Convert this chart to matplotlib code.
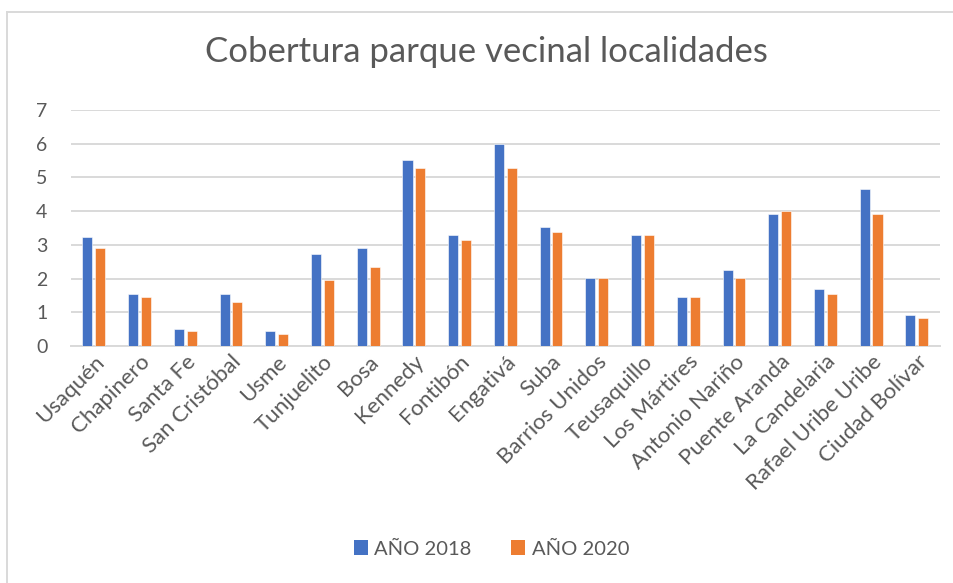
import matplotlib
matplotlib.use("Agg")
from matplotlib import pyplot as plt
from matplotlib.patches import Patch
from matplotlib.lines import Line2D
import numpy as np

localidades = [
    "Usaquén", "Chapinero", "Santa Fe", "San Cristóbal", "Usme", "Tunjuelito",
    "Bosa", "Kennedy", "Fontibón", "Engativá", "Suba", "Barrios Unidos",
    "Teusaquillo", "Los Mártires", "Antonio Nariño", "Puente Aranda",
    "La Candelaria", "Rafael Uribe Uribe", "Ciudad Bolívar",
]
anio_2018 = [3.22, 1.55, 0.51, 1.55, 0.45, 2.74, 2.91, 5.52, 3.29, 6.00,
             3.53, 2.02, 3.29, 1.46, 2.26, 3.93, 1.70, 4.65, 0.91]
anio_2020 = [2.91, 1.46, 0.45, 1.32, 0.36, 1.95, 2.34, 5.28, 3.14, 5.28,
             3.37, 2.02, 3.29, 1.46, 2.02, 4.01, 1.54, 3.93, 0.83]
y_ticks = [0, 1, 2, 3, 4, 5, 6, 7]

BLUE = "#4472c4"
ORANGE = "#ed7d31"
GRAY_TEXT = "#595959"
GRID = "#d9d9d9"

plt.rcParams["font.family"] = ["Lato", "DejaVu Sans"]

fig = plt.figure(figsize=(9.54, 5.83), dpi=100)
ax = fig.add_axes([0.0744, 0.4065, 0.9106, 0.4048])

x = np.arange(len(localidades))
w = 0.22
off = 0.14
ax.bar(x - off, anio_2018, width=w, color=BLUE, edgecolor="white", linewidth=0.4, zorder=3)
ax.bar(x + off, anio_2020, width=w, color=ORANGE, edgecolor="white", linewidth=0.4, zorder=3)

ax.set_xlim(-0.5, len(localidades) - 0.5)
ax.set_ylim(0, 7)
ax.set_yticks(y_ticks)
ax.set_yticklabels([str(t) for t in y_ticks])
ax.yaxis.grid(True, color=GRID, linewidth=1.4, zorder=0)
ax.set_axisbelow(True)
for side in ["top", "right", "left"]:
    ax.spines[side].set_visible(False)
ax.spines["bottom"].set_color(GRID)
ax.spines["bottom"].set_linewidth(1.4)

ax.tick_params(axis="y", length=0, pad=17, labelsize=14, labelcolor=GRAY_TEXT)
ax.tick_params(axis="x", length=0, pad=4, labelsize=16, labelcolor=GRAY_TEXT)
ax.set_xticks(x)
ax.set_xticklabels(localidades, rotation=45, ha="right", rotation_mode="anchor")

fig.text(0.51, 1 - 52 / 583, "Cobertura parque vecinal localidades",
         ha="center", va="center", fontsize=25, color=GRAY_TEXT)

handles = [Patch(facecolor=BLUE, label="AÑO 2018"),
           Patch(facecolor=ORANGE, label="AÑO 2020")]
fig.legend(handles=handles, loc="center", bbox_to_anchor=(0.515, 1 - 549 / 583),
           ncol=2, frameon=False, fontsize=14.5, labelcolor=GRAY_TEXT,
           handlelength=0.7, handleheight=0.7, handletextpad=0.3, columnspacing=2.0)

# chart frame: only the top and left edges are visible
fx, fy = 7.5 / 954, 1 - 11.5 / 583
fig.lines.append(Line2D([fx, 1], [fy, fy], transform=fig.transFigure,
                        color=GRID, linewidth=1.4))
fig.lines.append(Line2D([fx, fx], [0, fy], transform=fig.transFigure,
                        color=GRID, linewidth=1.4))

fig.savefig("out.png", dpi=100)
